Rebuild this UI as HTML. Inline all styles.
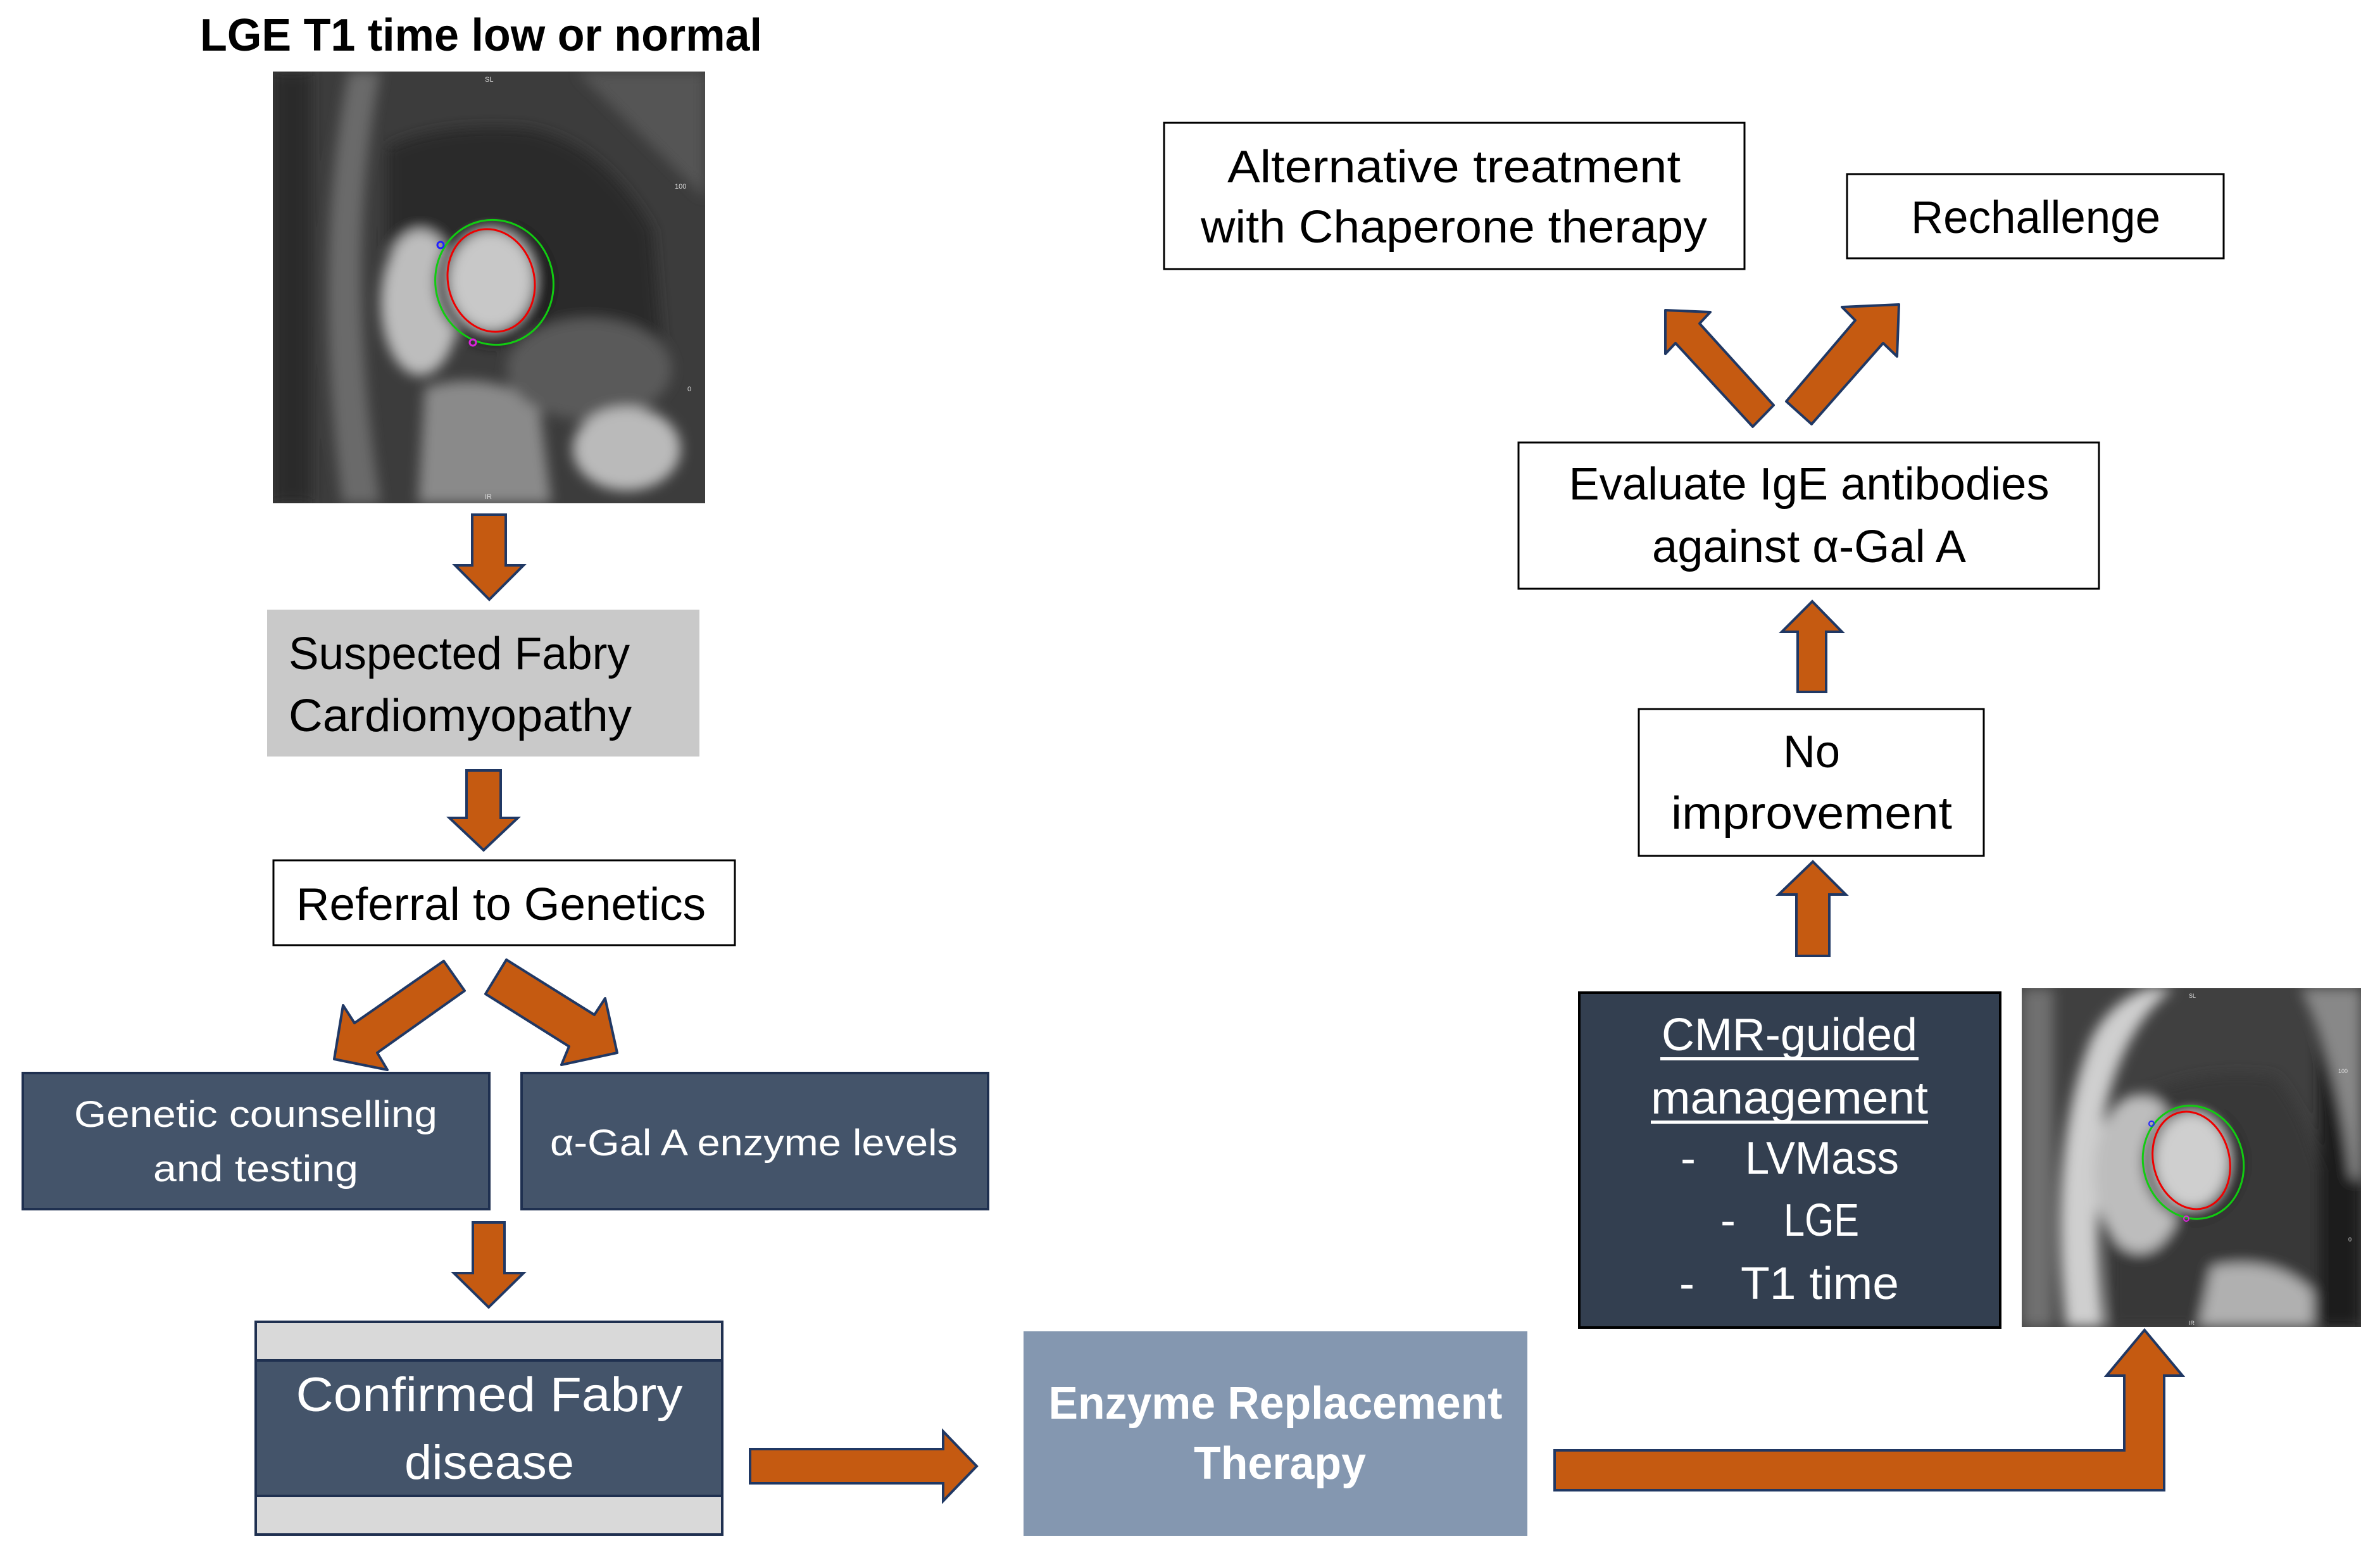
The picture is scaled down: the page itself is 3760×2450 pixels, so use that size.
<!DOCTYPE html>
<html><head><meta charset="utf-8"><style>
html,body{margin:0;padding:0;background:#fff}
svg{display:block}
text{font-family:"Liberation Sans",sans-serif}
</style></head><body>
<svg width="3760" height="2450" viewBox="0 0 3760 2450" xmlns="http://www.w3.org/2000/svg">
<defs>
<filter id="bl" x="-20%" y="-20%" width="140%" height="140%"><feGaussianBlur stdDeviation="10"/></filter>
<filter id="bl2" x="-20%" y="-20%" width="140%" height="140%"><feGaussianBlur stdDeviation="4"/></filter>
<clipPath id="c1"><rect x="0" y="0" width="683" height="682"/></clipPath>
<clipPath id="c2"><rect x="0" y="0" width="536" height="535"/></clipPath>
</defs>

<!-- Title -->
<text x="316" y="80" font-size="72" font-weight="bold" fill="#000" textLength="888" lengthAdjust="spacingAndGlyphs">LGE T1 time low or normal</text>

<!-- MRI 1 -->
<g transform="translate(431,113)">
<g clip-path="url(#c1)">
<rect width="683" height="682" fill="#3c3c3c"/>
<g filter="url(#bl)">
<rect x="0" y="0" width="60" height="682" fill="#2a2a2a"/>
<path d="M120 0 Q60 300 110 682 L170 682 Q110 300 170 0Z" fill="#6a6a6a"/>
<path d="M180 120 Q260 80 400 90 Q520 110 600 250 L620 500 Q500 480 400 400 Q250 300 180 280Z" fill="#2c2c2c"/>
<ellipse cx="233" cy="365" rx="62" ry="115" fill="#bdbdbd"/>
<ellipse cx="350" cy="333" rx="93" ry="99" fill="#1e1e1e"/>
<ellipse cx="345" cy="330" rx="68" ry="80" fill="#c8c8c8"/>
<path d="M240 500 Q330 470 420 520 L440 682 L230 682Z" fill="#8a8a8a"/>
<ellipse cx="500" cy="470" rx="130" ry="80" fill="#5a5a5a"/>
<ellipse cx="559" cy="596" rx="85" ry="66" fill="#bababa"/>
<path d="M480 0 L683 200 L683 0Z" fill="#555"/>
</g>
<ellipse cx="345" cy="330" rx="68" ry="82" fill="none" stroke="#e00" stroke-width="3" transform="rotate(-15 345 330)"/>
<ellipse cx="350" cy="333" rx="93" ry="99" fill="none" stroke="#1c1" stroke-width="3" transform="rotate(-15 350 333)"/>
<circle cx="265" cy="274" r="5" fill="none" stroke="#22f" stroke-width="3"/>
<circle cx="316" cy="428" r="5" fill="none" stroke="#d2d" stroke-width="3"/>
<text x="335" y="16" font-size="11" fill="#ddd">SL</text>
<text x="335" y="675" font-size="11" fill="#ddd">IR</text>
<text x="635" y="185" font-size="11" fill="#ddd">100</text>
<text x="655" y="505" font-size="11" fill="#ddd">0</text>
</g></g>

<!-- arrow 1 -->
<polygon points="746,813 799,813 799,893 827,893 773,947 719,893 746,893" fill="#c55a11" stroke="#203864" stroke-width="4"/>

<!-- Suspected box -->
<rect x="422" y="963" width="683" height="232" fill="#c9c9c9"/>
<text x="456" y="1057" font-size="72" fill="#000" textLength="539" lengthAdjust="spacingAndGlyphs">Suspected Fabry</text>
<text x="456" y="1155" font-size="72" fill="#000" textLength="542" lengthAdjust="spacingAndGlyphs">Cardiomyopathy</text>

<!-- arrow 2 -->
<polygon points="737,1217 791,1217 791,1292 818,1292 764,1343 710,1292 737,1292" fill="#c55a11" stroke="#203864" stroke-width="4"/>

<!-- Referral -->
<rect x="432" y="1359" width="729" height="134" fill="#fff" stroke="#000" stroke-width="3"/>
<text x="468" y="1453" font-size="72" fill="#000" textLength="647" lengthAdjust="spacingAndGlyphs">Referral to Genetics</text>

<!-- diag arrows -->
<polygon points="701,1518 734,1565 596,1663 612,1690 528,1673 542,1588 560,1616" fill="#c55a11" stroke="#203864" stroke-width="4" stroke-linejoin="round"/>
<polygon points="800,1516 767,1570 899,1653 887,1682 975,1663 956,1577 939,1603" fill="#c55a11" stroke="#203864" stroke-width="4" stroke-linejoin="round"/>

<!-- Genetic boxes -->
<rect x="36" y="1695" width="737" height="215" fill="#44546a" stroke="#1f3050" stroke-width="4"/>
<text x="404" y="1780" font-size="58" fill="#fff" text-anchor="middle" textLength="574" lengthAdjust="spacingAndGlyphs">Genetic counselling</text>
<text x="404" y="1866" font-size="58" fill="#fff" text-anchor="middle" textLength="324" lengthAdjust="spacingAndGlyphs">and testing</text>
<rect x="824" y="1695" width="737" height="215" fill="#44546a" stroke="#1f3050" stroke-width="4"/>
<text x="869" y="1825" font-size="58" fill="#fff" textLength="644" lengthAdjust="spacingAndGlyphs">α-Gal A enzyme levels</text>

<!-- arrow 3 -->
<polygon points="747,1931 797,1931 797,2011 827,2011 772,2065 717,2011 747,2011" fill="#c55a11" stroke="#203864" stroke-width="4"/>

<!-- Confirmed -->
<rect x="404" y="2088" width="737" height="336" fill="#d9d9d9" stroke="#1f3050" stroke-width="4"/>
<rect x="404" y="2149" width="737" height="214" fill="#44546a" stroke="#1f3050" stroke-width="4"/>
<text x="773" y="2229" font-size="76" fill="#fff" text-anchor="middle" textLength="611" lengthAdjust="spacingAndGlyphs">Confirmed Fabry</text>
<text x="773" y="2336" font-size="76" fill="#fff" text-anchor="middle" textLength="268" lengthAdjust="spacingAndGlyphs">disease</text>

<!-- right arrow -->
<polygon points="1185,2289 1490,2289 1490,2261 1543,2316 1490,2371 1490,2343 1185,2343" fill="#c55a11" stroke="#203864" stroke-width="4"/>

<!-- ERT -->
<rect x="1617" y="2103" width="796" height="323" fill="#8497b0"/>
<text x="2015" y="2241" font-size="72" font-weight="bold" fill="#fff" text-anchor="middle" textLength="717" lengthAdjust="spacingAndGlyphs">Enzyme Replacement</text>
<text x="2022" y="2336" font-size="72" font-weight="bold" fill="#fff" text-anchor="middle" textLength="272" lengthAdjust="spacingAndGlyphs">Therapy</text>

<!-- bent arrow -->
<polygon points="2456,2291 3356,2291 3356,2173 3328,2173 3388,2101 3448,2173 3419,2173 3419,2354 2456,2354" fill="#c55a11" stroke="#203864" stroke-width="4"/>

<!-- CMR box -->
<rect x="2495" y="1568" width="665" height="529" fill="#333f50" stroke="#000" stroke-width="4"/>
<text x="2827" y="1659" font-size="72" fill="#fff" text-anchor="middle" textLength="404" lengthAdjust="spacingAndGlyphs">CMR-guided</text>
<rect x="2623" y="1670" width="408" height="5" fill="#fff"/>
<text x="2827" y="1759" font-size="72" fill="#fff" text-anchor="middle" textLength="438" lengthAdjust="spacingAndGlyphs">management</text>
<rect x="2608" y="1770" width="438" height="5" fill="#fff"/>
<text x="2655" y="1854" font-size="72" fill="#fff">-</text>
<text x="2757" y="1854" font-size="72" fill="#fff" textLength="243" lengthAdjust="spacingAndGlyphs">LVMass</text>
<text x="2718" y="1952" font-size="72" fill="#fff">-</text>
<text x="2818" y="1952" font-size="72" fill="#fff" textLength="119" lengthAdjust="spacingAndGlyphs">LGE</text>
<text x="2653" y="2052" font-size="72" fill="#fff">-</text>
<text x="2750" y="2052" font-size="72" fill="#fff" textLength="250" lengthAdjust="spacingAndGlyphs">T1 time</text>

<!-- MRI 2 -->
<g transform="translate(3194,1561)">
<g clip-path="url(#c2)">
<rect width="536" height="535" fill="#404040"/>
<g filter="url(#bl)">
<rect x="0" y="0" width="50" height="535" fill="#6f6f6f"/>
<path d="M70 535 Q40 250 110 80 Q140 20 200 0 L240 0 Q160 60 130 200 Q110 350 130 535Z" fill="#cfcfcf"/>
<path d="M140 200 Q250 120 400 140 Q470 220 490 400 L470 535 L140 535Z" fill="#383838"/>
<ellipse cx="186" cy="293" rx="72" ry="125" fill="#bdbdbd"/>
<ellipse cx="271" cy="275" rx="79" ry="90" fill="#1c1c1c"/>
<ellipse cx="268" cy="272" rx="60" ry="77" fill="#cfcfcf"/>
<path d="M300 440 Q400 420 460 480 L460 535 L280 535Z" fill="#b0b0b0"/>
<rect x="470" y="0" width="66" height="535" fill="#1c1c1c"/>
<path d="M440 0 Q500 120 520 300 L536 300 L536 0Z" fill="#888"/>
</g>
<ellipse cx="268" cy="272" rx="60" ry="78" fill="none" stroke="#e00" stroke-width="3" transform="rotate(-15 268 272)"/>
<ellipse cx="271" cy="275" rx="79" ry="90" fill="none" stroke="#1c1" stroke-width="3" transform="rotate(-15 271 275)"/>
<circle cx="205" cy="214" r="4" fill="none" stroke="#22f" stroke-width="2"/>
<circle cx="260" cy="364" r="4" fill="none" stroke="#d2d" stroke-width="2"/>
<text x="264" y="15" font-size="9" fill="#ddd">SL</text>
<text x="264" y="532" font-size="9" fill="#ddd">IR</text>
<text x="500" y="134" font-size="9" fill="#ddd">100</text>
<text x="516" y="400" font-size="9" fill="#ddd">0</text>
</g></g>

<!-- up arrow (to no improvement) -->
<polygon points="2838,1510 2890,1510 2890,1413 2916,1413 2864,1361 2810,1413 2838,1413" fill="#c55a11" stroke="#203864" stroke-width="4"/>

<!-- No improvement -->
<rect x="2589" y="1120" width="545" height="232" fill="#fff" stroke="#000" stroke-width="3"/>
<text x="2862" y="1212" font-size="72" fill="#000" text-anchor="middle" textLength="90" lengthAdjust="spacingAndGlyphs">No</text>
<text x="2862" y="1309" font-size="72" fill="#000" text-anchor="middle" textLength="444" lengthAdjust="spacingAndGlyphs">improvement</text>

<!-- up arrow 2 -->
<polygon points="2840,1093 2885,1093 2885,998 2910,998 2863,950 2815,998 2840,998" fill="#c55a11" stroke="#203864" stroke-width="4"/>

<!-- Evaluate -->
<rect x="2399" y="699" width="917" height="231" fill="#fff" stroke="#000" stroke-width="3"/>
<text x="2858" y="789" font-size="72" fill="#000" text-anchor="middle" textLength="759" lengthAdjust="spacingAndGlyphs">Evaluate IgE antibodies</text>
<text x="2858" y="888" font-size="72" fill="#000" text-anchor="middle" textLength="496" lengthAdjust="spacingAndGlyphs">against α-Gal A</text>

<!-- diag up arrows -->
<polygon points="2631,490 2702,493 2685,511 2802,640 2769,674 2647,542 2631,559" fill="#c55a11" stroke="#203864" stroke-width="4" stroke-linejoin="round"/>
<polygon points="3000,481 2910,485 2931,506 2822,634 2862,670 2975,542 2997,563" fill="#c55a11" stroke="#203864" stroke-width="4" stroke-linejoin="round"/>

<!-- Alternative -->
<rect x="1839" y="194" width="917" height="231" fill="#fff" stroke="#000" stroke-width="3"/>
<text x="2297" y="288" font-size="72" fill="#000" text-anchor="middle" textLength="716" lengthAdjust="spacingAndGlyphs">Alternative treatment</text>
<text x="2297" y="383" font-size="72" fill="#000" text-anchor="middle" textLength="800" lengthAdjust="spacingAndGlyphs">with Chaperone therapy</text>

<!-- Rechallenge -->
<rect x="2918" y="275" width="595" height="133" fill="#fff" stroke="#000" stroke-width="3"/>
<text x="3019" y="368" font-size="72" fill="#000" textLength="394" lengthAdjust="spacingAndGlyphs">Rechallenge</text>
</svg>
</body></html>
